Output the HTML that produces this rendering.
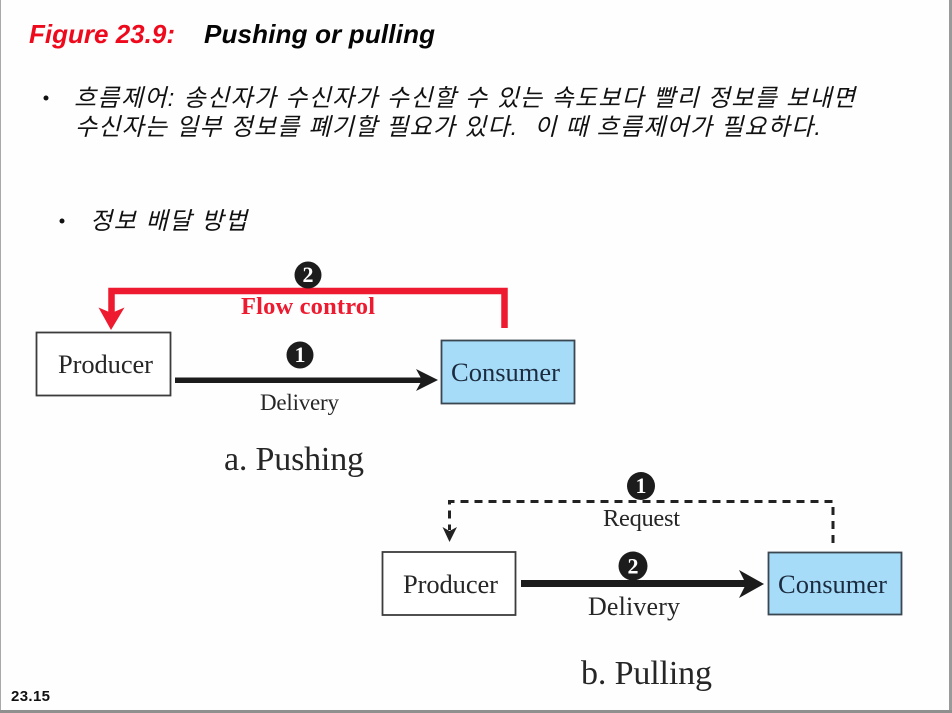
<!DOCTYPE html>
<html lang="ko">
<head>
<meta charset="utf-8">
<title>Figure 23.9: Pushing or pulling</title>
<style>
html,body{margin:0;padding:0;background:#fff;width:952px;height:713px;overflow:hidden}
svg{display:block}
.soft{filter:blur(0.35px)}
.sans{font-family:"Liberation Sans","Noto Sans CJK KR",sans-serif}
.kr{font-family:"Liberation Sans","Noto Sans CJK KR",sans-serif;font-style:italic;font-size:24px;font-weight:400;fill:#111;white-space:pre}
.serif{font-family:"Liberation Serif",serif;fill:#262626}
.num{font-family:"Liberation Serif",serif;font-weight:bold;font-size:22px;fill:#fff;text-anchor:middle}
</style>
</head>
<body>
<svg width="952" height="713" viewBox="0 0 952 713" xmlns="http://www.w3.org/2000/svg">
  <rect width="952" height="713" fill="#fefefe"/>
  <rect x="0" y="0" width="1" height="713" fill="#a9a9a9"/>
  <rect x="949" y="0" width="3" height="713" fill="#9a9a9a"/>
  <rect x="0" y="710" width="952" height="3" fill="#8f8f8f"/>

  <g class="soft">
  <text class="sans" x="29" y="43" font-size="26" font-weight="bold" font-style="italic" fill="#ee0a1c" textLength="146" lengthAdjust="spacing">Figure 23.9:</text>
  <text class="sans" x="204" y="43" font-size="26" font-weight="bold" font-style="italic" fill="#050505" textLength="231" lengthAdjust="spacing">Pushing or pulling</text>

  <circle cx="46" cy="98" r="2.500" fill="#111"/>
  <text class="kr" x="74" y="106" textLength="781" lengthAdjust="spacing">흐름제어: 송신자가 수신자가 수신할 수 있는 속도보다 빨리 정보를 보내면</text>
  <text class="kr" x="75" y="135" textLength="746" lengthAdjust="spacing">수신자는 일부 정보를 폐기할 필요가 있다.  이 때 흐름제어가 필요하다.</text>
  <circle cx="62" cy="221" r="2.500" fill="#111"/>
  <text class="kr" x="90" y="229" textLength="157" lengthAdjust="spacing">정보 배달 방법</text>

  <!-- a. Pushing -->
  <path d="M504.500 328V291H111.500V314" fill="none" stroke="#ee1a2f" stroke-width="6.500"/>
  <polygon points="98.500,307.500 111.500,313 124.500,307.500 111,330" fill="#ee1a2f"/>
  <circle cx="308" cy="275" r="13.500" fill="#1c1c1c"/>
  <text class="num" x="308" y="282">2</text>
  <text x="308" y="314" text-anchor="middle" font-family="Liberation Serif, serif" font-weight="bold" font-size="24.500" fill="#ee1a2f" textLength="134" lengthAdjust="spacing">Flow control</text>

  <rect x="36.500" y="332.500" width="134" height="63" fill="#fff" stroke="#3c3c3c" stroke-width="1.800"/>
  <text class="serif" x="58" y="373" font-size="26.500" textLength="95" lengthAdjust="spacing">Producer</text>

  <rect x="441.500" y="340.500" width="133" height="63" fill="#a6dcf8" stroke="#3a4650" stroke-width="1.800"/>
  <text class="serif" x="451" y="381" font-size="26.500" textLength="109" lengthAdjust="spacing" style="fill:#1c2c40">Consumer</text>

  <circle cx="300" cy="355" r="13.500" fill="#1c1c1c"/>
  <text class="num" x="300" y="362">1</text>
  <rect x="175" y="377.500" width="252" height="5.500" fill="#1c1c1c"/>
  <polygon points="416,369 438,380 416,391 422,380" fill="#1c1c1c"/>
  <text class="serif" x="260" y="410" font-size="23" textLength="79" lengthAdjust="spacing">Delivery</text>
  <text class="serif" x="224" y="470" font-size="34" textLength="140" lengthAdjust="spacing">a. Pushing</text>

  <!-- b. Pulling -->
  <path d="M833 543V501.500H449.500V530" fill="none" stroke="#222" stroke-width="3" stroke-dasharray="8 6"/>
  <polygon points="442.500,527 449.500,531 457,527 449.500,542" fill="#222"/>
  <circle cx="641" cy="486" r="14" fill="#1c1c1c"/>
  <text class="num" x="641" y="493">1</text>
  <text class="serif" x="603" y="526" font-size="24.500" textLength="77" lengthAdjust="spacing">Request</text>

  <rect x="382.500" y="552" width="133" height="63" fill="#fff" stroke="#3c3c3c" stroke-width="1.800"/>
  <text class="serif" x="403" y="593" font-size="26.500" textLength="95" lengthAdjust="spacing">Producer</text>

  <rect x="768.500" y="552.500" width="133" height="62" fill="#a6dcf8" stroke="#3a4650" stroke-width="1.800"/>
  <text class="serif" x="778" y="593" font-size="26.500" textLength="109" lengthAdjust="spacing" style="fill:#1c2c40">Consumer</text>

  <circle cx="633" cy="566" r="14.500" fill="#1c1c1c"/>
  <text class="num" x="633" y="573.500">2</text>
  <rect x="521" y="580" width="230" height="7" fill="#1c1c1c"/>
  <polygon points="739,570 764,584 739,598 746,584" fill="#1c1c1c"/>
  <text class="serif" x="588" y="615" font-size="26" textLength="92" lengthAdjust="spacing">Delivery</text>
  <text class="serif" x="581" y="684" font-size="34" textLength="131" lengthAdjust="spacing">b. Pulling</text>

  <text class="sans" x="11" y="701" font-size="15" font-weight="bold" fill="#111" textLength="39" lengthAdjust="spacing">23.15</text>
  </g>
</svg>
</body>
</html>
